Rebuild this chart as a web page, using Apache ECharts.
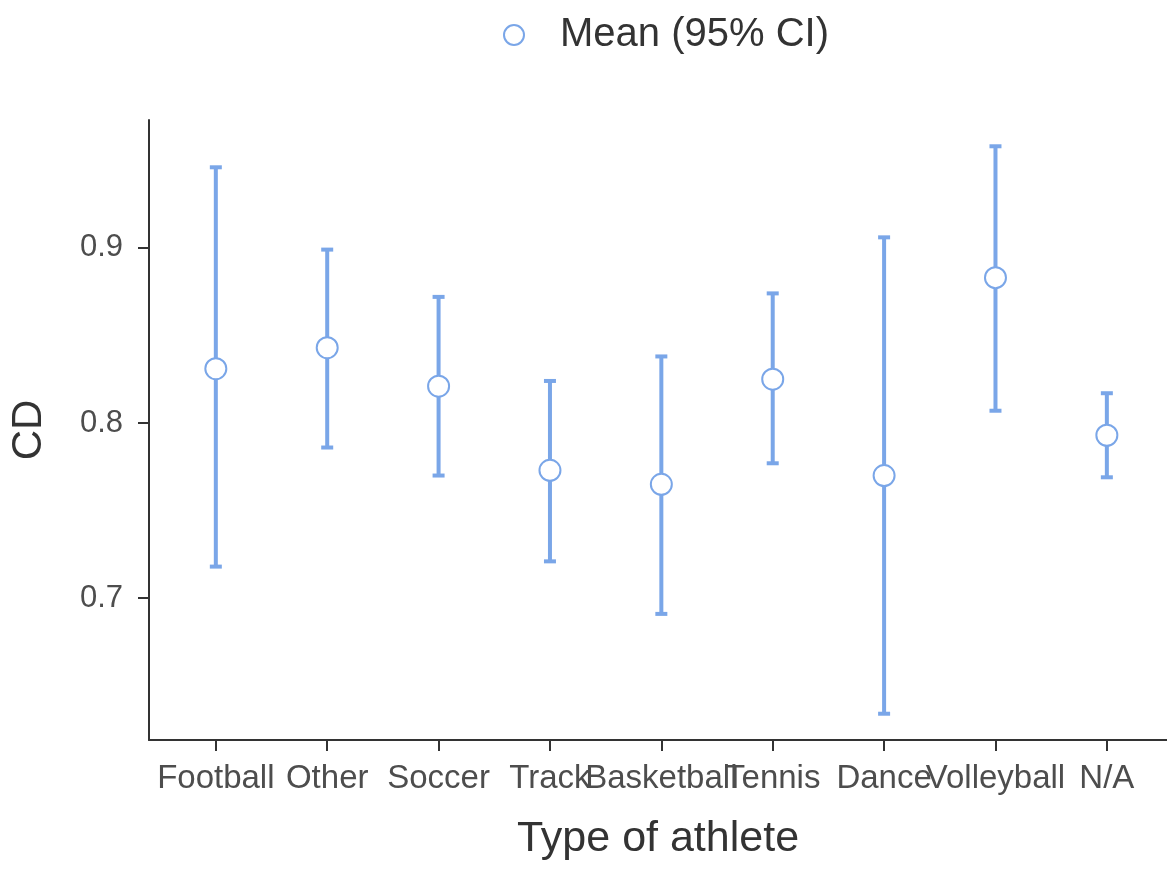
<!DOCTYPE html>
<html>
<head>
<meta charset="utf-8">
<script src="https://cdn.jsdelivr.net/npm/echarts@6/dist/echarts.min.js"></script>
<style>
html,body{margin:0;padding:0;background:#fff;}
#chart{width:1167px;height:872px;}
</style>
</head>
<body>
<div id="chart"></div>
<script>
const categories = ['Football','Other','Soccer','Track','Basketball','Tennis','Dance','Volleyball','N/A'];
const means = [0.831,0.843,0.821,0.773,0.765,0.825,0.770,0.883,0.793];
const lower = [0.718,0.786,0.770,0.721,0.691,0.777,0.634,0.807,0.769];
const upper = [0.946,0.899,0.872,0.824,0.838,0.874,0.906,0.958,0.817];
const yTicks = [0.7,0.8,0.9];
const seriesName = 'Mean (95% CI)';

const BLUE = '#7aa6e8';
const FONT = 'Liberation Sans, Arial, sans-serif';
const catIdx = categories.map((c,i)=>i);

const chart = echarts.init(document.getElementById('chart'), null, {renderer:'canvas'});
chart.setOption({
  animation:false,
  backgroundColor:'#fff',
  textStyle:{fontFamily:FONT},
  grid:{left:148, right:0, top:120, bottom:132, containLabel:false},
  legend:{
    data:[seriesName],
    left:498, top:10,
    itemWidth:20, itemHeight:20,
    formatter:'{t|{name}}',
    textStyle:{fontFamily:FONT, rich:{t:{fontSize:40, color:'#333', fontFamily:FONT, padding:[0,0,0,31]}}}
  },
  xAxis:{
    type:'value', min:-0.6, max:8.54,
    splitLine:{show:false},
    axisLine:{show:true, onZero:false, lineStyle:{color:'#333', width:2}},
    axisTick:{show:true, customValues:catIdx, length:11, lineStyle:{color:'#333', width:2}},
    axisLabel:{show:true, customValues:catIdx, formatter:v=>categories[Math.round(v)], fontSize:33, color:'#4d4d4d', margin:22, fontFamily:FONT},
    name:'Type of athlete', nameLocation:'middle', nameGap:78,
    nameTextStyle:{fontSize:43, color:'#333', fontFamily:FONT}
  },
  yAxis:{
    type:'value', min:0.619, max:0.973,
    splitLine:{show:false},
    axisLine:{show:true, onZero:false, lineStyle:{color:'#333', width:2}},
    axisTick:{show:true, customValues:yTicks, length:11, lineStyle:{color:'#333', width:2}},
    axisLabel:{show:true, customValues:yTicks, formatter:v=>v.toFixed(1), fontSize:31, color:'#4d4d4d', margin:26, fontFamily:FONT},
    name:'CD', nameLocation:'middle', nameRotate:90, nameGap:99,
    nameTextStyle:{fontSize:42, color:'#333', fontFamily:FONT}
  },
  series:[
    {
      type:'custom',
      name:'CI',
      data:categories.map((c,i)=>[i, lower[i], upper[i]]),
      renderItem:function(params, api){
        const x = api.value(0);
        const lo = api.coord([x, api.value(1)]);
        const hi = api.coord([x, api.value(2)]);
        const cap = 6;
        const st = {stroke:BLUE, lineWidth:4, fill:null};
        return {type:'group', children:[
          {type:'line', shape:{x1:hi[0], y1:hi[1], x2:lo[0], y2:lo[1]}, style:st},
          {type:'line', shape:{x1:hi[0]-cap, y1:hi[1], x2:hi[0]+cap, y2:hi[1]}, style:st},
          {type:'line', shape:{x1:lo[0]-cap, y1:lo[1], x2:lo[0]+cap, y2:lo[1]}, style:st}
        ]};
      },
      z:2
    },
    {
      type:'scatter',
      name:seriesName,
      data:means.map((m,i)=>[i,m]),
      symbol:'circle',
      symbolSize:21,
      itemStyle:{color:'#fff', borderColor:BLUE, borderWidth:2, opacity:1},
      z:3
    }
  ]
});
</script>
</body>
</html>
